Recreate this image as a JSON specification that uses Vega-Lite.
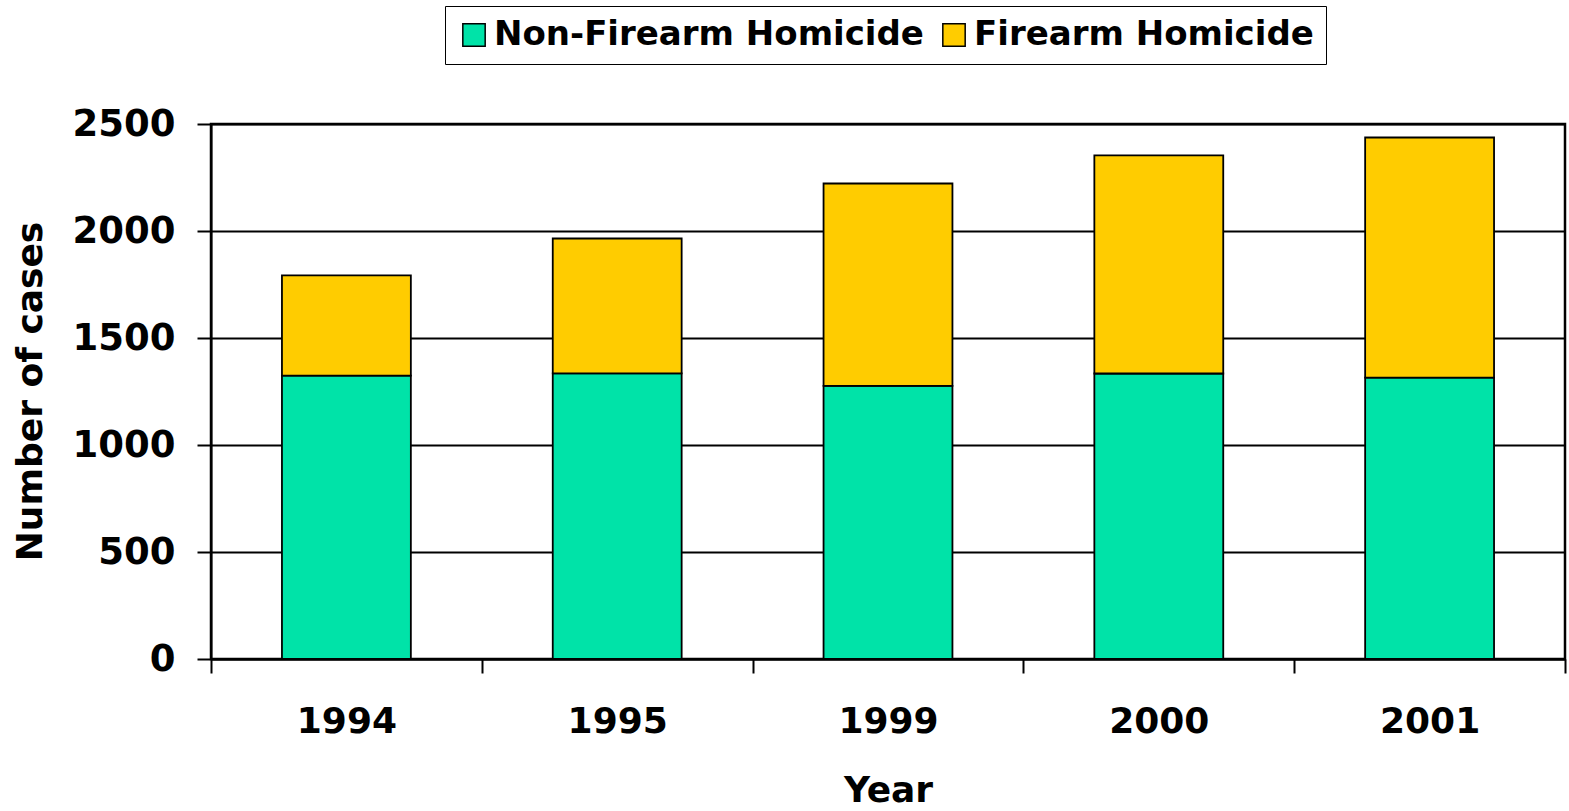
{
  "$schema": "https://vega.github.io/schema/vega-lite/v6.json",
  "autosize": "none",
  "padding": {"left": 211, "top": 124, "right": 4, "bottom": 152},
  "width": 1354,
  "height": 535,
  "background": "white",
  "config": {
    "font": "DejaVu Sans",
    "view": {"stroke": "#000", "strokeWidth": 2.5}
  },
  "data": {
    "values": [
      {"year": "1994", "type": "Non-Firearm Homicide", "cases": 1324},
      {"year": "1994", "type": "Firearm Homicide", "cases": 469},
      {"year": "1995", "type": "Non-Firearm Homicide", "cases": 1335},
      {"year": "1995", "type": "Firearm Homicide", "cases": 630},
      {"year": "1999", "type": "Non-Firearm Homicide", "cases": 1276},
      {"year": "1999", "type": "Firearm Homicide", "cases": 946},
      {"year": "2000", "type": "Non-Firearm Homicide", "cases": 1334},
      {"year": "2000", "type": "Firearm Homicide", "cases": 1019},
      {"year": "2001", "type": "Non-Firearm Homicide", "cases": 1315},
      {"year": "2001", "type": "Firearm Homicide", "cases": 1122}
    ]
  },
  "mark": {"type": "bar", "stroke": "#000", "strokeWidth": 1.8, "width": {"band": 0.476}},
  "encoding": {
    "x": {
      "field": "year",
      "type": "ordinal",
      "scale": {"paddingInner": 0, "paddingOuter": 0},
      "axis": {
        "title": "Year",
        "titleFontSize": 36,
        "titleFontWeight": "bold",
        "titleColor": "#000",
        "titleX": 677,
        "titleY": 131,
        "titleBaseline": "middle",
        "labelAngle": 0,
        "labelFontSize": 36,
        "labelFontWeight": "bold",
        "labelColor": "#000",
        "labelPadding": 31,
        "tickBand": "extent",
        "tickSize": 14,
        "tickColor": "#000",
        "tickWidth": 2,
        "domainColor": "#000",
        "domainWidth": 2,
        "grid": false
      }
    },
    "y": {
      "field": "cases",
      "type": "quantitative",
      "stack": "zero",
      "scale": {"domain": [0, 2500], "nice": false},
      "axis": {
        "title": "Number of cases",
        "titleFontSize": 36,
        "titleFontWeight": "bold",
        "titleColor": "#000",
        "titleAngle": -90,
        "titleX": -181,
        "titleY": 267,
        "titleAlign": "center",
        "titleBaseline": "middle",
        "values": [0, 500, 1000, 1500, 2000, 2500],
        "format": "d",
        "labelFontSize": 37,
        "labelFontWeight": "bold",
        "labelColor": "#000",
        "labelPadding": 22,
        "tickSize": 14,
        "tickColor": "#000",
        "tickWidth": 2,
        "domainColor": "#000",
        "domainWidth": 2,
        "grid": true,
        "gridColor": "#000",
        "gridWidth": 1.8
      }
    },
    "color": {
      "field": "type",
      "type": "nominal",
      "scale": {
        "domain": ["Non-Firearm Homicide", "Firearm Homicide"],
        "range": ["#00E3A8", "#FFCC00"]
      },
      "legend": {
        "title": null,
        "orient": "none",
        "legendX": 234,
        "legendY": -118,
        "direction": "horizontal",
        "strokeColor": "#000",
        "padding": 12,
        "symbolType": "square",
        "symbolSize": 500,
        "symbolStrokeColor": "#000",
        "symbolStrokeWidth": 1.5,
        "labelFontSize": 34,
        "labelFontWeight": "bold",
        "labelColor": "#000",
        "labelOffset": 3,
        "columnPadding": 13,
        "labelLimit": 0
      }
    },
    "order": {"field": "type", "sort": "descending"}
  }
}
